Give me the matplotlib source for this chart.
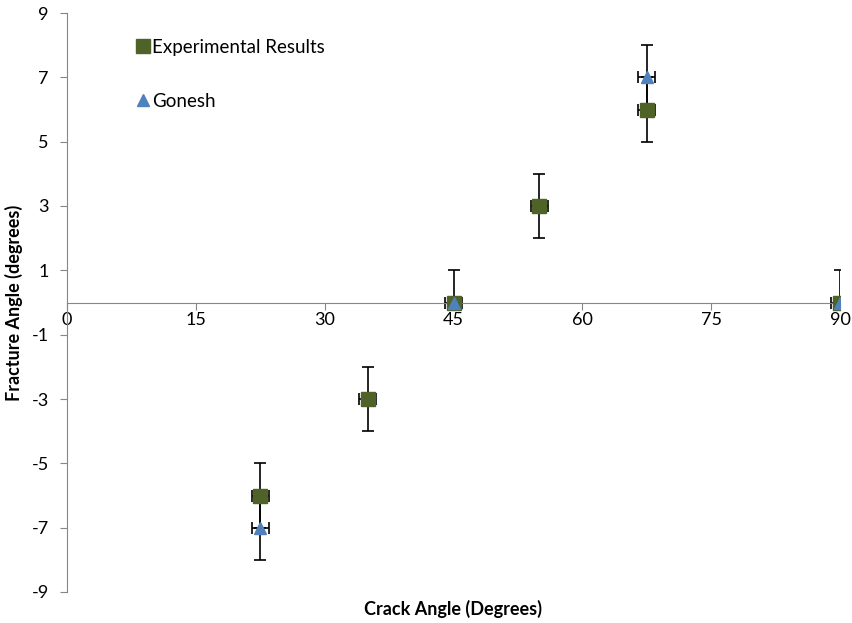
import matplotlib
matplotlib.use("Agg")
import matplotlib.pyplot as plt
from matplotlib.lines import Line2D

plt.rcParams['font.family'] = ['Lato', 'DejaVu Sans']
plt.rcParams['axes.unicode_minus'] = False

exp_x = [22.5, 35, 45, 55, 67.5, 90]
exp_y = [-6, -3, 0, 3, 6, 0]
exp_yerr_lo = [1, 1, 0, 1, 1, 0]
exp_yerr_hi = [1, 1, 1, 1, 1, 1]
exp_xerr = [1, 1, 1, 1, 1, 1]

gon_x = [22.5, 45, 67.5, 90]
gon_y = [-7, 0, 7, 0]
gon_yerr_lo = [1, 0, 1, 0]
gon_yerr_hi = [1, 0, 1, 0]
gon_xerr = [1, 0, 1, 0]

x_ticks = [0, 15, 30, 45, 60, 75, 90]
y_ticks = [-9, -7, -5, -3, -1, 1, 3, 5, 7, 9]

exp_color = '#4F6228'
gon_color = '#4F81BD'

fig = plt.figure(figsize=(8.53, 6.23), dpi=100)
ax = fig.add_axes([67/853, 31/623, (840-67)/853, (592-13)/623])

ax.errorbar(exp_x, exp_y, yerr=[exp_yerr_lo, exp_yerr_hi], xerr=exp_xerr,
            fmt='none', ecolor='black', elinewidth=1.2, capsize=4, capthick=1.2, zorder=2)
ax.errorbar(gon_x, gon_y, yerr=[gon_yerr_lo, gon_yerr_hi], xerr=gon_xerr,
            fmt='none', ecolor='black', elinewidth=1.2, capsize=4, capthick=1.2, zorder=2)
ax.plot(exp_x, exp_y, 's', color=exp_color, markersize=10.5, zorder=3)
ax.plot(gon_x, gon_y, '^', color=gon_color, markersize=9, zorder=4)

ax.set_xlim(0, 90)
ax.set_ylim(-9, 9)
ax.set_xticks(x_ticks)
ax.set_yticks(y_ticks)

for s in ['top', 'right']:
    ax.spines[s].set_visible(False)
ax.spines['bottom'].set_position(('data', 0))
ax.spines['bottom'].set_color('#868686')
ax.spines['left'].set_color('#868686')
ax.tick_params(axis='both', direction='out', length=5, color='#868686', labelsize=13)
ax.tick_params(axis='y', pad=8)
ax.tick_params(axis='x', pad=2)

ax.set_xlabel('Crack Angle (Degrees)', fontsize=13, fontweight='bold')
ax.xaxis.set_label_coords(0.5, -0.013)
ax.set_ylabel('Fracture Angle (degrees)', fontsize=13, fontweight='bold')
ax.yaxis.set_label_coords(-0.057, 0.5)

handles = [Line2D([], [], marker='s', color=exp_color, linestyle='none', markersize=10),
           Line2D([], [], marker='^', color=gon_color, linestyle='none', markersize=9)]
ax.legend(handles, ['Experimental Results', 'Gonesh'], loc='upper left',
          bbox_to_anchor=(0.064, 0.985), frameon=False, fontsize=13.5,
          labelspacing=2.0, handletextpad=0.0, handlelength=1.0)

fig.savefig('out.png', dpi=100)
